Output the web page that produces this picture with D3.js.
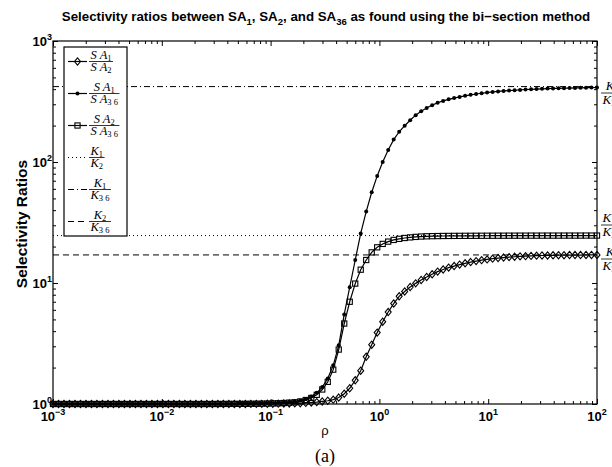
<!DOCTYPE html>
<html><head><meta charset="utf-8">
<script src="https://cdn.jsdelivr.net/npm/d3@7"></script>
<style>body{margin:0;background:#fff}</style>
</head><body><svg id="c" width="612" height="467" xmlns="http://www.w3.org/2000/svg"></svg>
<script>
// ---- data ----
const rho = [0.001,0.0011233,0.0012619,0.0014175,0.0015923,0.0017886,0.0020092,0.002257,0.0025354,0.002848,
0.0031993,0.0035938,0.004037,0.0045349,0.0050941,0.0057224,0.0064281,0.0072208,0.0081113,0.0091116,
0.010235,0.011498,0.012915,0.014508,0.016298,0.018307,0.020565,0.023101,0.02595,0.02915,
0.032745,0.036783,0.041319,0.046416,0.05214,0.05857,0.065793,0.073907,0.083022,0.09326,
0.10476,0.11768,0.13219,0.1485,0.16681,0.18738,0.21049,0.23645,0.26561,0.29836,
0.33516,0.37649,0.42292,0.47508,0.53367,0.59948,0.67342,0.75646,0.84975,0.95455,
1.0723,1.2045,1.353,1.5199,1.7074,1.9179,2.1544,2.4201,2.7186,3.0539,
3.4305,3.8535,4.3288,4.8626,5.4623,6.1359,6.8926,7.7426,8.6975,9.7701,
10.975,12.328,13.849,15.557,17.475,19.63,22.051,24.771,27.826,31.257,
35.112,39.442,44.306,49.77,55.908,62.803,70.548,79.248,89.022,100];
const sa1OverSa2 = [1,1,1,1,1,1,1,1,1,1, 1,1,1,1,1,1,1,1,1,1, 1,1,1,1,1,1,1,1,1,1,
1,1,1,1.001,1.001,1.001,1.002,1.002,1.003,1.004,
1.005,1.007,1.009,1.011,1.013,1.016,1.021,1.028,1.037,1.05,
1.064,1.086,1.13,1.216,1.349,1.57,1.884,2.455,3.09,3.89,
4.786,5.754,6.761,7.762,8.511,9.268,9.931,10.59,11.22,11.8,
12.42,12.94,13.4,13.8,14.19,14.55,14.89,15.17,15.45,15.67,
15.89,16.07,16.22,16.37,16.48,16.6,16.67,16.75,16.83,16.87,
16.9,16.94,16.98,16.98,17.02,17.02,17.02,17.06,17.06,17.06];
const sa1OverSa36 = [1,1,1,1,1,1,1,1,1,1, 1,1,1,1,1,1,1,1,1,1, 1,1,1,1,1,1,1,1,1,1,
1.001,1.001,1.002,1.002,1.003,1.004,1.005,1.006,1.009,1.012,
1.016,1.021,1.028,1.037,1.047,1.067,1.102,1.153,1.236,1.38,
1.622,2.089,3.055,5.495,9.226,15.49,25.7,38.9,56.23,76.74,
100,125.9,153.1,177.8,199.5,221.3,243.8,263,279.9,295.1,
309,319.9,329.6,337.3,345.1,352.4,358.9,364.8,369.8,375,
379.3,382.8,386.4,389,391.7,394.5,397.2,399,400.9,402.7,
404.6,405.5,406.4,407.4,408.3,409.3,410.2,411.1,412,412.9];
const sa2OverSa36 = [1,1,1,1,1,1,1,1,1,1, 1,1,1,1,1,1,1,1,1,1, 1,1,1,1,1,1,1,1,1,1,
1.001,1.001,1.002,1.002,1.003,1.003,1.004,1.005,1.007,1.009,
1.012,1.014,1.019,1.026,1.033,1.05,1.079,1.122,1.191,1.318,
1.524,1.923,2.818,4.624,6.998,9.886,12.88,15.49,17.91,19.72,
21.04,21.98,22.7,23.17,23.55,23.82,24.04,24.21,24.32,24.38,
24.43,24.47,24.49,24.51,24.52,24.54,24.55,24.56,24.57,24.58,
24.59,24.6,24.6,24.61,24.61,24.62,24.62,24.63,24.63,24.63,
24.64,24.64,24.64,24.65,24.65,24.65,24.65,24.66,24.66,24.66];
const refNames = ["K1/K2","K1/K36","K2/K36"];
const refValues = [24.66, 420, 17.06];
const xTickValues = [1e-3,1e-2,1e-1,1,10,100];
const xTickExps = ["\u22123","\u22122","\u22121","0","1","2"];
const yTickValues = [1,10,100,1000];
const yTickExps = ["0","1","2","3"];

// ---- drawing ----
const svg = d3.select("#c");
svg.append("rect").attr("width",612).attr("height",467).attr("fill","#fff");
const L=53, R=597, T=41, B=404;
const x = d3.scaleLog().domain([1e-3,1e2]).range([L,R]);
const y = d3.scaleLog().domain([1,1e3]).range([B,T]);
const SANS = "'Liberation Sans', Arial, Helvetica, sans-serif";
const SERIF = "'Liberation Serif', 'Times New Roman', serif";

function minors(majors){ const out=[]; for(let i=0;i<majors.length-1;i++) for(let m=2;m<=9;m++) out.push(majors[i]*m); return out; }
const xMin = minors(xTickValues), yMin = minors(yTickValues);

function ax(axis, tx, ty){
  svg.append("g").attr("transform",`translate(${tx},${ty})`).call(axis)
    .call(g=>{ g.select(".domain").remove(); g.selectAll("text").remove(); g.selectAll("line").attr("stroke","#000").attr("stroke-width",1); });
}
ax(d3.axisBottom(x).tickValues(xTickValues).tickSizeInner(-5).tickSizeOuter(0).tickFormat(""),0,B);
ax(d3.axisBottom(x).tickValues(xMin).tickSizeInner(-3).tickSizeOuter(0).tickFormat(""),0,B);
ax(d3.axisTop(x).tickValues(xTickValues).tickSizeInner(-5).tickSizeOuter(0).tickFormat(""),0,T);
ax(d3.axisTop(x).tickValues(xMin).tickSizeInner(-3).tickSizeOuter(0).tickFormat(""),0,T);
ax(d3.axisLeft(y).tickValues(yTickValues).tickSizeInner(-5).tickSizeOuter(0).tickFormat(""),L,0);
ax(d3.axisLeft(y).tickValues(yMin).tickSizeInner(-3).tickSizeOuter(0).tickFormat(""),L,0);
ax(d3.axisRight(y).tickValues(yTickValues).tickSizeInner(-5).tickSizeOuter(0).tickFormat(""),R,0);
ax(d3.axisRight(y).tickValues(yMin).tickSizeInner(-3).tickSizeOuter(0).tickFormat(""),R,0);

// reference lines
const refDash = ["1,3","6,3,1,3","6,4"];
refValues.forEach((v,i)=>{
  svg.append("line").attr("x1",L).attr("x2",R).attr("y1",y(v)).attr("y2",y(v))
    .attr("stroke","#000").attr("stroke-width",1).attr("stroke-dasharray",refDash[i]);
});

// series
const line = d3.line().x(d=>x(d[0])).y(d=>y(d[1]));
const series = [
  {vals: sa1OverSa2, marker:"diamond"},
  {vals: sa1OverSa36, marker:"dot"},
  {vals: sa2OverSa36, marker:"square"}
];
function drawMarker(g, type, cx, cy){
  if(type==="diamond") g.append("path").attr("d",`M${cx},${cy-3.6}L${cx+3},${cy}L${cx},${cy+3.6}L${cx-3},${cy}Z`).attr("fill","none").attr("stroke","#000").attr("stroke-width",1.1);
  else if(type==="square") g.append("rect").attr("x",cx-2.6).attr("y",cy-2.6).attr("width",5.2).attr("height",5.2).attr("fill","none").attr("stroke","#000").attr("stroke-width",1.1);
  else g.append("circle").attr("cx",cx).attr("cy",cy).attr("r",2).attr("fill","#000");
}
series.forEach(s=>{
  const pts = rho.map((r,i)=>[r,s.vals[i]]);
  const g = svg.append("g");
  g.append("path").attr("d",line(pts)).attr("fill","none").attr("stroke","#000").attr("stroke-width",1.2);
  pts.forEach(p=>drawMarker(g, s.marker, x(p[0]), y(p[1])));
});

// box
svg.append("rect").attr("x",L).attr("y",T).attr("width",R-L).attr("height",B-T)
  .attr("fill","none").attr("stroke","#000").attr("stroke-width",1.2);

// tick labels
xTickValues.forEach((v,i)=>{
  const t = svg.append("text").attr("x",x(v)).attr("y",421).attr("text-anchor","middle")
    .attr("font-family",SANS).attr("font-weight","bold").attr("font-size",13);
  t.append("tspan").text("10");
  t.append("tspan").attr("dy",-6).attr("font-size",9).text(xTickExps[i]);
});
yTickValues.forEach((v,i)=>{
  const t = svg.append("text").attr("x",L-1).attr("y",y(v)+5).attr("text-anchor","end")
    .attr("font-family",SANS).attr("font-weight","bold").attr("font-size",13);
  t.append("tspan").text("10");
  t.append("tspan").attr("dy",-6).attr("font-size",9).text(yTickExps[i]);
});

// title
const title = svg.append("text").attr("x",326).attr("y",21).attr("text-anchor","middle")
  .attr("font-family",SANS).attr("font-weight","bold").attr("font-size",13.3);
[["Selectivity ratios between SA",0],["1",1],[", SA",0],["2",1],[", and SA",0],["36",1],[" as found using the bi\u2212section method",0]]
  .forEach(([s,sub],i,arr)=>{
    const ts = title.append("tspan").text(s);
    if(sub){ ts.attr("dy",3.5).attr("font-size",9.5); }
    else if(i>0 && arr[i-1][1]){ ts.attr("dy",-3.5); }
  });

// axis labels
svg.append("text").attr("transform","translate(27,224) rotate(-90)").attr("text-anchor","middle")
  .attr("font-family",SANS).attr("font-weight","bold").attr("font-size",15.5).text("Selectivity Ratios");
svg.append("text").attr("x",325).attr("y",435).attr("text-anchor","middle")
  .attr("font-family",SANS).attr("font-size",13).text("\u03c1");
svg.append("text").attr("x",325).attr("y",462).attr("text-anchor","middle")
  .attr("font-family",SERIF).attr("font-size",18).text("(a)");

// fraction helper (LaTeX-like)
function part(t, main, sub){
  t.append("tspan").attr("font-style","italic").text(main);
  if(sub) t.append("tspan").attr("font-size",8.5).attr("dy",2.2).text(sub);
}
function frac(g, x0, yb, num, den, fs, gap){
  const n = g.append("text").attr("font-family",SERIF).attr("font-size",fs).attr("y",yb-3);
  part(n, num[0], num[1]);
  const d = g.append("text").attr("font-family",SERIF).attr("font-size",fs).attr("y",yb+gap);
  part(d, den[0], den[1]);
  const wn = n.node().getComputedTextLength(), wd = d.node().getComputedTextLength();
  const w = Math.max(wn,wd)+3;
  n.attr("x",x0+(w-wn)/2); d.attr("x",x0+(w-wd)/2);
  g.append("line").attr("x1",x0).attr("x2",x0+w).attr("y1",yb).attr("y2",yb).attr("stroke","#000").attr("stroke-width",0.8);
}

// legend
const lg = svg.append("g");
lg.append("rect").attr("x",64).attr("y",47).attr("width",63).attr("height",189).attr("fill","#fff").attr("stroke","#000").attr("stroke-width",1.2);
const legendItems = [
  {num:["S A","1"], den:["S A","2"], marker:"diamond", dash:null},
  {num:["S A","1"], den:["S A","3 6"], marker:"dot", dash:null},
  {num:["S A","2"], den:["S A","3 6"], marker:"square", dash:null},
  {num:["K","1"], den:["K","2"], marker:null, dash:refDash[0]},
  {num:["K","1"], den:["K","3 6"], marker:null, dash:refDash[1]},
  {num:["K","2"], den:["K","3 6"], marker:null, dash:refDash[2]}
];
legendItems.forEach((it,i)=>{
  const yy = 61.5 + i*32;
  const ln = lg.append("line").attr("x1",68).attr("x2",87).attr("y1",yy).attr("y2",yy).attr("stroke","#000").attr("stroke-width",1.2);
  if(it.dash) ln.attr("stroke-dasharray",it.dash);
  if(it.marker) drawMarker(lg, it.marker, 77.5, yy);
  frac(lg, 89, yy, it.num, it.den, 12.5, 9.5);
});

// right-side labels for reference lines
const rg = svg.append("g");
frac(rg, 601, 93, ["K","1"], ["K","3 6"], 13, 10.5);
frac(rg, 601, 225, ["K","1"], ["K","2"], 13, 10.5);
frac(rg, 601, 259, ["K","2"], ["K","3 6"], 13, 10.5);
</script>
</body></html>
